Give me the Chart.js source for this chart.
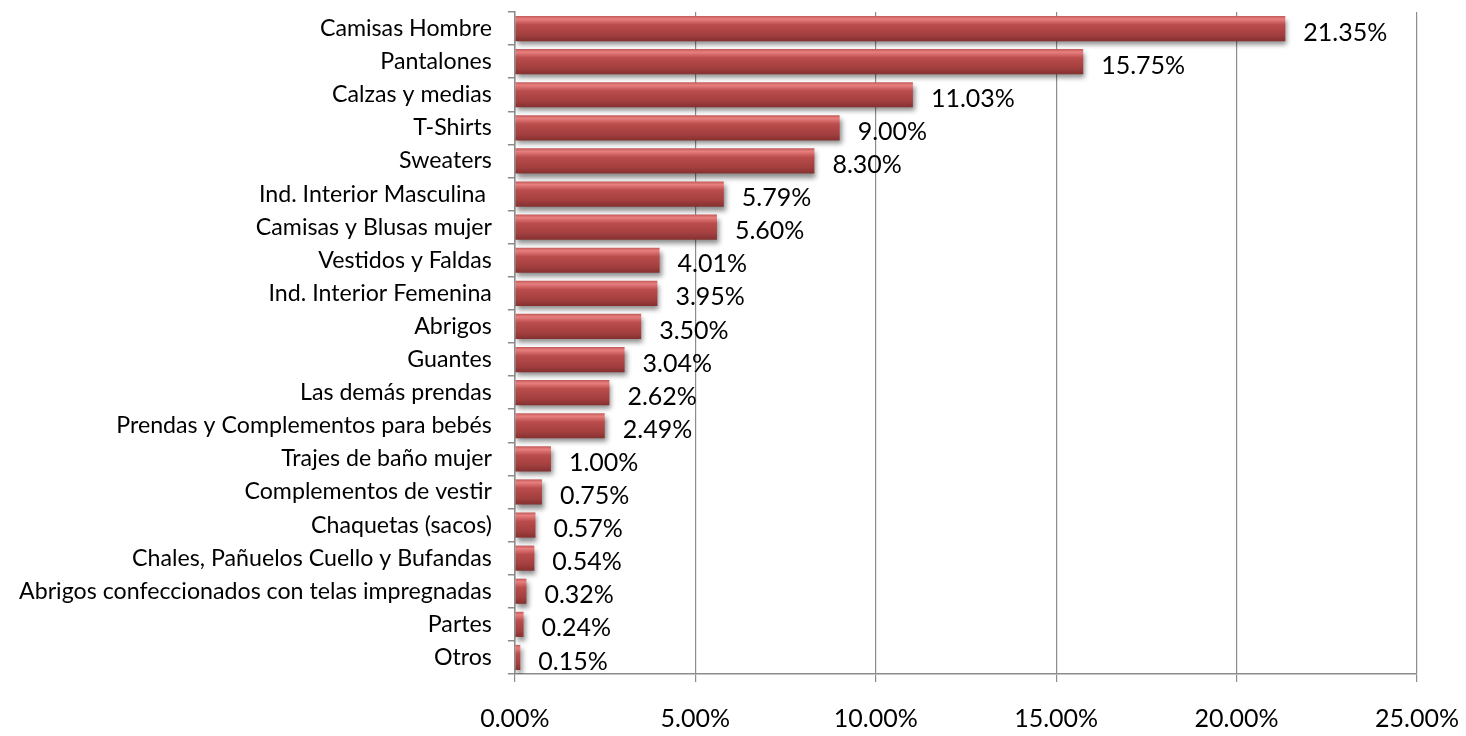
<!DOCTYPE html>
<html>
<head>
<meta charset="utf-8">
<script src="https://cdn.jsdelivr.net/npm/chart.js@4.4.1/dist/chart.umd.min.js"></script>
<style>
  html, body { margin: 0; padding: 0; background: #fff; }
  #wrap { width: 1466px; height: 736px; }
</style>
</head>
<body>
<div id="wrap"><canvas id="shareChart"></canvas></div>
<script>
// categories, top to bottom
const categories = [
    'Camisas Hombre', 'Pantalones', 'Calzas y medias', 'T-Shirts', 'Sweaters',
    'Ind. Interior Masculina ', 'Camisas y Blusas mujer', 'Vestidos y Faldas',
    'Ind. Interior Femenina', 'Abrigos', 'Guantes', 'Las demás prendas',
    'Prendas y Complementos para bebés', 'Trajes de baño mujer',
    'Complementos de vestir', 'Chaquetas (sacos)',
    'Chales, Pañuelos Cuello y Bufandas',
    'Abrigos confeccionados con telas impregnadas', 'Partes', 'Otros'
];

// share in percent
const shares = [21.35, 15.75, 11.03, 9.00, 8.30, 5.79, 5.60, 4.01, 3.95, 3.50,
    3.04, 2.62, 2.49, 1.00, 0.75, 0.57, 0.54, 0.32, 0.24, 0.15];

// x axis ticks
const xTicks = [0, 5, 10, 15, 20, 25];

const FONT = 'Lato, "Open Sans", sans-serif';

// vertical gradient per bar, built from the y scale position of that bar
function barGradient(context) {
    const chart = context.chart;
    const yScale = chart.scales.y;
    if (!yScale || !chart.chartArea) return '#b04848';
    const center = yScale.getPixelForValue(context.dataIndex);
    const half = (yScale.height / categories.length) * 0.76 / 2;
    const g = chart.ctx.createLinearGradient(0, center - half, 0, center + half);
    g.addColorStop(0, '#c25858');
    g.addColorStop(0.12, '#e8807f');
    g.addColorStop(0.35, '#bb4c4c');
    g.addColorStop(0.75, '#a33f3f');
    g.addColorStop(1, '#843030');
    return g;
}

// drop shadow under the bars
const barShadow = {
    id: 'barShadow',
    beforeDatasetsDraw(chart) {
        const ctx = chart.ctx;
        ctx.save();
        ctx.shadowColor = 'rgba(0,0,0,0.45)';
        ctx.shadowBlur = 5;
        ctx.shadowOffsetX = 2;
        ctx.shadowOffsetY = 4;
    },
    afterDatasetsDraw(chart) {
        chart.ctx.restore();
    }
};

// value labels right of each bar
const valueLabels = {
    id: 'valueLabels',
    afterDraw(chart) {
        const ctx = chart.ctx;
        const meta = chart.getDatasetMeta(0);
        ctx.save();
        ctx.font = '25px ' + FONT;
        ctx.fillStyle = '#000';
        ctx.textAlign = 'left';
        ctx.textBaseline = 'middle';
        meta.data.forEach((bar, i) => {
            ctx.fillText(shares[i].toFixed(2) + '%', bar.x + 18, bar.y + 4);
        });
        ctx.restore();
    }
};

const ctx = document.getElementById('shareChart').getContext('2d');

const share_chart = new Chart(ctx, {
    type: 'bar',
    data: {
        labels: categories,
        datasets: [{
            data: shares,
            backgroundColor: barGradient,
            borderWidth: 0,
            categoryPercentage: 0.76,
            barPercentage: 1.0
        }]
    },
    options: {
        indexAxis: 'y',
        responsive: true,
        maintainAspectRatio: false,
        animation: false,
        layout: { padding: { top: 12, right: 49, bottom: -20, left: 3 } },
        plugins: {
            legend: { display: false },
            tooltip: { enabled: false }
        },
        scales: {
            x: {
                min: 0,
                max: 25,
                afterBuildTicks: axis => { axis.ticks = xTicks.map(v => ({ value: v })); },
                afterFit: axis => { axis.paddingLeft = 0; axis.paddingRight = 0; },
                ticks: {
                    callback: v => v.toFixed(2) + '%',
                    color: '#000',
                    font: { family: FONT, size: 25 },
                    padding: 22
                },
                grid: {
                    color: '#8c8c8c',
                    lineWidth: 1.2,
                    tickLength: 8
                },
                border: { color: '#8c8c8c', width: 1.5 }
            },
            y: {
                offset: true,
                afterFit: axis => { axis.paddingTop = 0; axis.paddingBottom = 0; },
                ticks: {
                    color: '#000',
                    font: { family: FONT, size: 23.2 },
                    padding: 16,
                    autoSkip: false
                },
                grid: {
                    drawOnChartArea: false,
                    color: '#8c8c8c',
                    lineWidth: 1.5,
                    tickLength: 7,
                    offset: true
                },
                border: { color: '#8c8c8c', width: 1.5 }
            }
        }
    },
    plugins: [barShadow, valueLabels]
});
</script>
</body>
</html>
